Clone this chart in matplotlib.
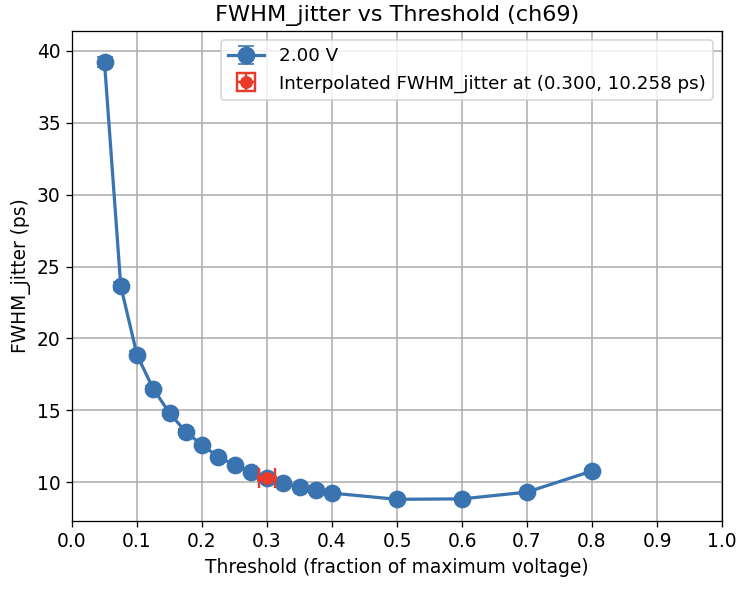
import matplotlib
matplotlib.use("Agg")
import matplotlib.pyplot as plt
import numpy as np

thresholds = [0.05, 0.075, 0.1, 0.125, 0.15, 0.175, 0.2, 0.225, 0.25, 0.275, 0.3,
              0.325, 0.35, 0.375, 0.4, 0.5, 0.6, 0.7, 0.8]
jitter = [39.2, 23.65, 18.85, 16.48, 14.81, 13.49, 12.58, 11.75, 11.19, 10.7, 10.26,
          9.93, 9.65, 9.44, 9.23, 8.80, 8.83, 9.30, 10.77]
jitter_err = [0.35, 0.3, 0.25, 0.2, 0.2, 0.2, 0.15, 0.15, 0.15, 0.15, 0.15,
              0.15, 0.15, 0.15, 0.15, 0.1, 0.1, 0.1, 0.15]
interp_x = 0.300
interp_y = 10.258
interp_xerr = 0.0125
interp_yerr = 0.1
series_label = "2.00 V"

dpi = 116
plt.rcParams["font.size"] = 11.6
fig = plt.figure(figsize=(743 / dpi, 592 / dpi), dpi=dpi)
ax = fig.add_axes([72 / 743, 1 - 521 / 592, 650 / 743, 490 / 592])

blue = "#3a74b0"
red = "#ea3a2a"
ax.errorbar(thresholds, jitter, yerr=jitter_err, fmt="o-", color=blue,
            markersize=10, linewidth=2, capsize=5, label=series_label, zorder=3)
ax.errorbar([interp_x], [interp_y], xerr=[interp_xerr], yerr=[interp_yerr], fmt="o",
            color=red, markersize=7, capsize=6, elinewidth=1.5, capthick=1.5,
            label=f"Interpolated FWHM_jitter at ({interp_x:.3f}, {interp_y:.3f} ps)", zorder=4)

ax.set_xlim(0, 1.0)
ax.set_ylim(7.29, 41.39)
ax.set_xticks(np.arange(0, 1.01, 0.1))
ax.set_xticklabels([f"{v:.1f}" for v in np.arange(0, 1.01, 0.1)])
ax.grid(True, color="#b0b0b0", linewidth=1)
ax.set_axisbelow(True)
ax.set_title("FWHM_jitter vs Threshold (ch69)", fontsize=13.9)
ax.set_xlabel("Threshold (fraction of maximum voltage)")
ax.set_ylabel("FWHM_jitter (ps)")
ax.legend(loc="upper right", fontsize=11.3)

fig.savefig("out.png", dpi=dpi)
